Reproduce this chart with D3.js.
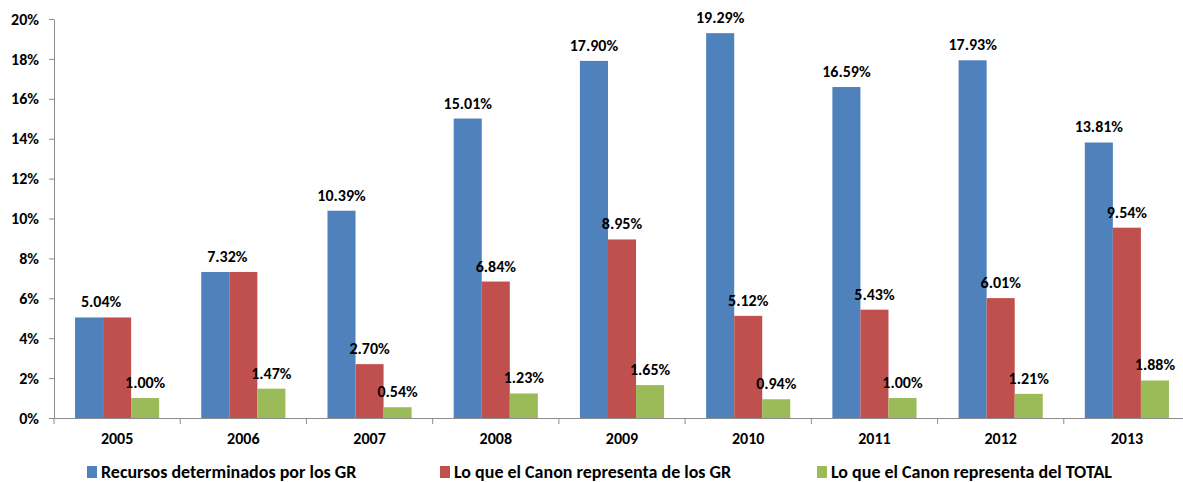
<!DOCTYPE html>
<html>
<head>
<meta charset="utf-8">
<style>
  body { margin: 0; background: #fff; }
  svg { display: block; }
  .lbl { font-family: Carlito, Lato, Roboto, sans-serif; font-weight: bold; fill: #000; }
</style>
</head>
<body>
<div id="chart"></div>
<script src="https://cdn.jsdelivr.net/npm/d3@7"></script>
<script>

// data
var years = ["2005", "2006", "2007", "2008", "2009", "2010", "2011", "2012", "2013"];
var seriesNames = ["Recursos determinados por los GR",
                   "Lo que el Canon representa de los GR",
                   "Lo que el Canon representa del TOTAL"];
var recursosGR = [5.04, 7.32, 10.39, 15.01, 17.90, 19.29, 16.59, 17.93, 13.81];
var canonGR    = [5.04, 7.32, 2.70, 6.84, 8.95, 5.12, 5.43, 6.01, 9.54];
var canonTotal = [1.00, 1.47, 0.54, 1.23, 1.65, 0.94, 1.00, 1.21, 1.88];
var yTicks = [0, 2, 4, 6, 8, 10, 12, 14, 16, 18, 20];
var colors = ["#4F81BD", "#C0504D", "#9BBB59"];

var width = 1183, height = 482;
var axisColor = "#8c8c8c";

var svg = d3.select("#chart").append("svg")
    .attr("width", width)
    .attr("height", height);

var x0 = d3.scaleBand().domain(years).range([54, 1190]).padding(0);
var x1 = d3.scaleBand().domain(seriesNames).range([0, x0.bandwidth()])
    .paddingInner(0).paddingOuter(0.75);
var y = d3.scaleLinear().domain([0, 20]).range([418, 19]);
var color = d3.scaleOrdinal().domain(seriesNames).range(colors);

var allSeries = [recursosGR, canonGR, canonTotal];
var rows = [];
years.forEach(function(yr, i) {
    seriesNames.forEach(function(s, j) {
        rows.push({year: yr, series: s, idx: j, value: allSeries[j][i]});
    });
});

// y axis
var yAxis = svg.append("g")
    .attr("transform", "translate(" + x0.range()[0] + ",0)")
    .call(d3.axisLeft(y).tickValues(yTicks).tickSize(5).tickSizeOuter(0)
        .tickPadding(10).tickFormat(function(d) { return d + "%"; }));
yAxis.selectAll("path, line").attr("stroke", axisColor);
yAxis.selectAll("text").attr("class", "lbl").style("font-size", "16px");

// x axis (labels only, ticks drawn between categories)
var xAxis = svg.append("g")
    .attr("transform", "translate(0," + y(0) + ")")
    .call(d3.axisBottom(x0).tickSize(0).tickSizeOuter(0).tickPadding(15));
xAxis.select("path").attr("stroke", axisColor).attr("d", "M" + x0.range()[0] + ",0.5H" + width);
xAxis.selectAll("text").attr("class", "lbl").style("font-size", "16px");
xAxis.selectAll(".sep")
    .data(years.concat(["end"]))
    .enter().append("line")
    .attr("class", "sep")
    .attr("x1", function(d) { return d === "end" ? x0.range()[1] : x0(d); })
    .attr("x2", function(d) { return d === "end" ? x0.range()[1] : x0(d); })
    .attr("y1", 0).attr("y2", 6)
    .attr("stroke", axisColor);

// bars
svg.append("g").selectAll("rect")
    .data(rows)
    .enter().append("rect")
    .attr("x", function(d) { return x0(d.year) + x1(d.series); })
    .attr("width", x1.bandwidth())
    .attr("y", function(d) { return y(d.value); })
    .attr("height", function(d) { return y(0) - y(d.value); })
    .attr("fill", function(d) { return color(d.series); });

// value labels (one shared label when the first two series are equal)
var labelRows = rows.filter(function(d) {
    if (d.idx === 1) {
        var i = years.indexOf(d.year);
        return recursosGR[i] !== canonGR[i];
    }
    return true;
});
svg.append("g").selectAll("text")
    .data(labelRows)
    .enter().append("text")
    .attr("class", "lbl")
    .style("font-size", "16px")
    .attr("text-anchor", "middle")
    .attr("x", function(d) {
        var i = years.indexOf(d.year);
        var cx = x0(d.year) + x1(d.series) + x1.bandwidth() / 2;
        if (d.idx === 0 && recursosGR[i] === canonGR[i]) cx += x1.bandwidth() / 2 - 2;
        return cx;
    })
    .attr("y", function(d) { return y(d.value) - 10; })
    .text(function(d) { return d.value.toFixed(2) + "%"; });

// legend
var legendX = [87, 440, 817];
var legend = svg.append("g").selectAll("g")
    .data(seriesNames)
    .enter().append("g")
    .attr("transform", function(d, i) { return "translate(" + legendX[i] + ",466)"; });
legend.append("rect")
    .attr("width", 10).attr("height", 12)
    .attr("fill", function(d) { return color(d); });
legend.append("text")
    .attr("class", "lbl")
    .style("font-size", "18px")
    .attr("x", 14).attr("y", 11.5)
    .text(function(d) { return d; });

</script>
</body>
</html>
